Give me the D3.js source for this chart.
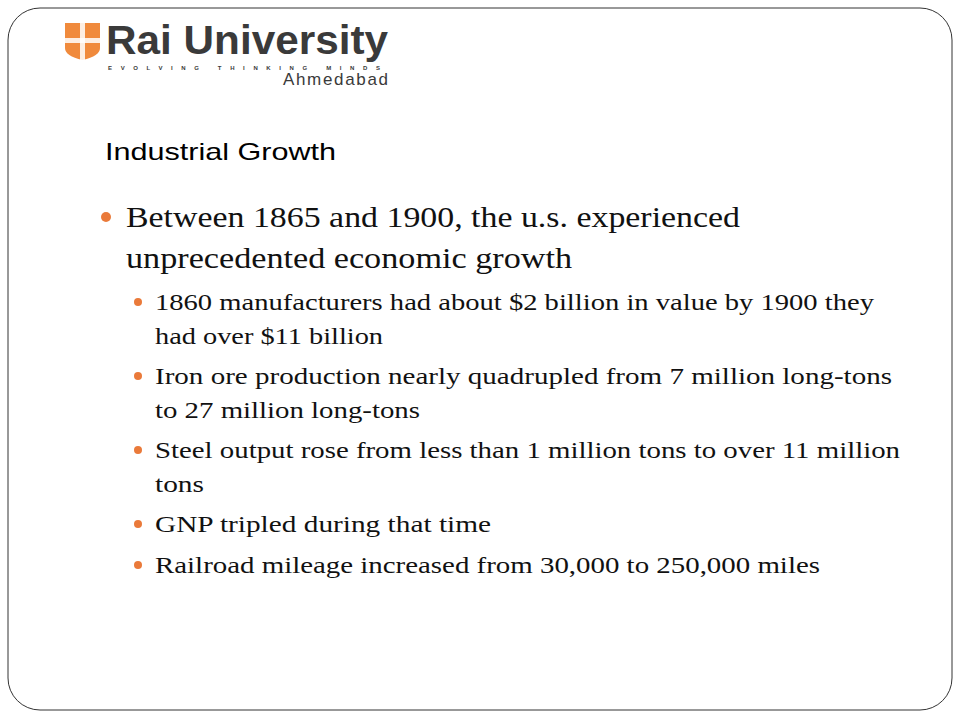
<!DOCTYPE html><html><head><meta charset="utf-8"><script src="https://cdn.jsdelivr.net/npm/d3@7"></script>
<style>body{margin:0;background:#fff}</style></head><body><script>
const title = "Industrial Growth";
const mainBullet = ["Between 1865 and 1900, the u.s. experienced", "unprecedented economic growth"];
const subBullets = [
  ["1860 manufacturers had about $2 billion in value by 1900 they", "had over $11 billion"],
  ["Iron ore production nearly quadrupled from 7 million long-tons", "to 27 million long-tons"],
  ["Steel output rose from less than 1 million tons to over 11 million", "tons"],
  ["GNP tripled during that time"],
  ["Railroad mileage increased from 30,000 to 250,000 miles"]
];
const mainWidths = [614, 446];
const subWidths = [[719, 228], [737, 265], [745, 49], [336], [665]];
const svg = d3.select("body").append("svg").attr("width",960).attr("height",720);
svg.append("rect").attr("x",8).attr("y",8).attr("width",944).attr("height",702).attr("rx",32)
  .attr("fill","#fff").attr("stroke","#333").attr("stroke-width",1);
const sans = "Liberation Sans, Arial";
const lg = svg.append("g");
lg.append("path").attr("d","M65,23 H100 V48 Q100,56 82.5,60 Q65,56 65,48 Z").attr("fill","#f08a3c");
lg.append("rect").attr("x",80).attr("y",23).attr("width",5).attr("height",37).attr("fill","#fff").attr("opacity",0.85);
lg.append("rect").attr("x",65).attr("y",38).attr("width",35).attr("height",5).attr("fill","#fff").attr("opacity",0.85);
lg.append("text").attr("x",106).attr("y",54).attr("font-family",sans).attr("font-weight","bold")
  .attr("font-size",40).attr("fill","#3a3a3a").attr("textLength",282).attr("lengthAdjust","spacingAndGlyphs").text("Rai University");
lg.append("text").attr("x",108).attr("y",70).attr("font-family",sans).attr("font-weight","bold")
  .attr("font-size",6).attr("fill","#3a3a3a").attr("textLength",272).text("EVOLVING   THINKING   MINDS");
lg.append("text").attr("x",388).attr("y",85).attr("text-anchor","end").attr("font-family",sans)
  .attr("font-size",17).attr("fill","#3a3a3a").attr("textLength",105).text("Ahmedabad");
svg.append("text").attr("x",105).attr("y",160).attr("font-family",sans).attr("font-size",24)
  .attr("fill","#000").attr("textLength",231).attr("lengthAdjust","spacingAndGlyphs").text(title);
const serif = "Liberation Serif, Times New Roman, serif", orange="#ea7a3a";
svg.append("circle").attr("cx",106).attr("cy",217).attr("r",5).attr("fill",orange);
mainBullet.forEach((t,i)=>svg.append("text").attr("x",126).attr("y",227+i*41).attr("font-family",serif)
  .attr("font-size",29).attr("fill","#111").attr("textLength",mainWidths[i]).attr("lengthAdjust","spacingAndGlyphs").text(t));
const tops=[310,384,458,532,573];
subBullets.forEach((lines,j)=>{
  svg.append("circle").attr("cx",138).attr("cy",tops[j]-8).attr("r",4).attr("fill",orange);
  lines.forEach((t,i)=>svg.append("text").attr("x",155).attr("y",tops[j]+i*34).attr("font-family",serif)
    .attr("font-size",23.5).attr("fill","#111").attr("textLength",subWidths[j][i]).attr("lengthAdjust","spacingAndGlyphs").text(t));
});
</script></body></html>
